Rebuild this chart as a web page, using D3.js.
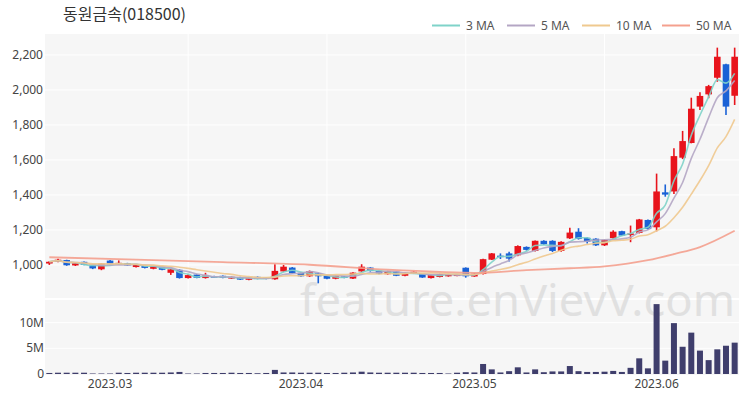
<!DOCTYPE html>
<html>
<head>
<meta charset="utf-8">
<script src="https://cdn.jsdelivr.net/npm/d3@7"></script>
<style>
  body { margin: 0; background: #fff; }
  text { font-family: "Noto Sans", "DejaVu Sans", sans-serif; }
  .title { font-family: "Noto Sans CJK KR", "Noto Sans", sans-serif; }
</style>
</head>
<body>
<div id="chart"></div>
<script>
// daily OHLC, 2023-02-20 .. 2023-06-15
var opens = [1008,1018,1028,997,1018,1002,975,1025,1003,1010,
  988,998,978,990,955,972,925,945,925,935,
  938,922,930,915,932,928,918,963,985,955,
  935,952,938,921,935,922,963,985,966,947,
  962,938,950,948,925,931,935,938,984,934,
  948,1030,1053,1066,1055,1103,1080,1138,1138,1080,
  1152,1190,1155,1150,1112,1153,1193,1172,1183,1257,
  1215,1415,1420,1613,1697,1905,1975,2070,2147,1967];
var highs = [1022,1035,1030,1012,1020,1004,1010,1028,1026,1012,
  1003,1000,996,992,977,975,947,947,955,938,
  940,934,932,930,934,930,1004,1000,988,957,
  968,955,940,940,937,958,1004,987,968,966,
  964,957,963,950,944,950,949,947,986,952,
  1036,1068,1066,1075,1112,1106,1140,1141,1141,1135,
  1212,1210,1158,1153,1145,1198,1196,1225,1263,1260,
  1522,1460,1667,1766,1956,1987,2029,2242,2150,2242];
var lows = [1000,1015,995,994,998,976,970,1000,1000,995,
  985,980,975,970,943,922,922,924,922,926,
  924,920,914,912,918,918,915,960,950,932,
  932,895,918,918,924,920,960,962,947,945,
  936,936,948,926,922,929,933,936,927,932,
  945,1028,1034,1020,1050,1082,1077,1115,1074,1076,
  1148,1145,1122,1108,1108,1150,1165,1130,1180,1202,
  1192,1390,1405,1605,1695,1886,1953,2047,1857,1914];
var closes = [1018,1030,998,1010,1000,980,1008,1003,1012,997,
  1000,983,994,972,975,925,942,926,940,929,
  926,932,916,928,920,921,966,990,953,935,
  965,935,921,938,926,956,990,965,950,964,
  938,955,961,928,942,948,947,945,935,950,
  1033,1066,1045,1036,1108,1086,1138,1118,1080,1132,
  1185,1148,1133,1112,1142,1190,1168,1180,1260,1205,
  1420,1402,1622,1708,1893,1966,2022,2190,1905,2190];
// volume in millions of shares
var volumes = [0.2,0.25,0.25,0.25,0.25,0.1,0.1,0.1,0.25,0.2,
  0.25,0.25,0.25,0.25,0.3,0.4,0.1,0.1,0.2,0.2,
  0.2,0.25,0.2,0.2,0.15,0.2,0.8,0.3,0.3,0.25,
  0.25,0.25,0.2,0.2,0.25,0.3,0.45,0.3,0.25,0.25,
  0.25,0.25,0.25,0.2,0.2,0.2,0.1,0.25,0.35,0.3,
  1.95,0.9,0.3,0.55,1.3,0.3,0.9,0.35,0.5,0.5,
  1.55,0.55,0.4,0.4,0.45,0.6,0.4,1.2,3.05,1.1,
  13.6,2.6,9.9,5.3,8.05,4.55,2.7,4.8,5.5,6.1];
// 50-day average (index, value)
var ma50Idx = [0,10,20,30,39,45,49,55,60,64,69,72,75,79];
var ma50Val = [1044,1030,1016,1001,973,960,955,970,981,992,1027,1062,1102,1195];

var priceTicks = [1000,1200,1400,1600,1800,2000,2200];
var volTicks = [0,5,10];
var volTickLabels = ["0","5M","10M"];
var monthIdx = [7,29,49,70];
var monthLabels = ["2023.03","2023.04","2023.05","2023.06"];
var gridIdx = [16,32,48,64];

var maNames = ["3 MA","5 MA","10 MA","50 MA"];
var maColors = ["#7fd3c9","#b4a6c4","#efc98f","#f4a08e"];

var W = 750, H = 400;
var left = 45, right = 739;
var pTop = 34, pBot = 298, vTop = 300, vBot = 375;

var svg = d3.select("#chart").append("svg").attr("width", W).attr("height", H);

var x = d3.scaleBand().domain(d3.range(closes.length)).range([left, right]);
var bw = x.bandwidth();
var cx = function(i) { return x(i) + bw / 2; };
var y = d3.scaleLinear().domain([811, 2320]).range([pBot, pTop]);
var yv = d3.scaleLinear().domain([0, 14.4]).range([374, vTop]);

// panels
svg.append("rect").attr("x", left).attr("y", pTop).attr("width", right - left).attr("height", pBot - pTop).attr("fill", "#f6f6f6");
svg.append("rect").attr("x", left).attr("y", vTop).attr("width", right - left).attr("height", vBot - vTop).attr("fill", "#f6f6f6");

// grid
svg.selectAll(".hg").data(priceTicks).enter().append("line")
  .attr("x1", left).attr("x2", right).attr("y1", d => y(d)).attr("y2", d => y(d))
  .attr("stroke", "#fff").attr("stroke-width", 1);
svg.selectAll(".vg").data(gridIdx).enter().append("line")
  .attr("x1", d => cx(d)).attr("x2", d => cx(d)).attr("y1", pTop).attr("y2", pBot)
  .attr("stroke", "#fff").attr("stroke-width", 1);
svg.selectAll(".vgv").data(volTicks.slice(1)).enter().append("line")
  .attr("x1", left).attr("x2", right).attr("y1", d => yv(d)).attr("y2", d => yv(d))
  .attr("stroke", "#fff").attr("stroke-width", 1);

// watermark
svg.append("text").attr("x", 300).attr("y", 316)
  .attr("textLength", 435).attr("lengthAdjust", "spacingAndGlyphs")
  .style("font-size", "44px").attr("fill", "#cfcfcf").attr("opacity", 0.55)
  .text("feature.enVievV.com");

// axis labels
svg.selectAll(".py").data(priceTicks).enter().append("text")
  .attr("x", 43).attr("y", d => y(d) + 4).attr("text-anchor", "end")
  .style("font-size", "12px").attr("fill", "#444").text(d => d3.format(",")(d));
svg.selectAll(".vy").data(volTicks).enter().append("text")
  .attr("x", 44).attr("y", d => yv(d) + 4).attr("text-anchor", "end")
  .style("font-size", "12px").attr("fill", "#444").text((d, i) => volTickLabels[i]);
svg.selectAll(".mx").data(monthIdx).enter().append("text")
  .attr("x", d => cx(d)).attr("y", 388).attr("text-anchor", "middle")
  .style("font-size", "12px").attr("fill", "#444").text((d, i) => monthLabels[i]);

// volume bars
svg.selectAll(".vol").data(volumes).enter().append("rect")
  .attr("x", (d, i) => cx(i) - 3).attr("width", 6)
  .attr("y", d => yv(d)).attr("height", d => yv(0) - yv(d))
  .attr("fill", "#3f3e6c");

// candles
var up = "#e8141c", down = "#1a62d6";
var idx = d3.range(closes.length);
svg.selectAll(".wick").data(idx).enter().append("line")
  .attr("x1", i => cx(i)).attr("x2", i => cx(i))
  .attr("y1", i => y(highs[i])).attr("y2", i => y(lows[i]))
  .attr("stroke", i => closes[i] >= opens[i] ? up : down).attr("stroke-width", 1.6);
svg.selectAll(".body").data(idx).enter().append("rect")
  .attr("x", i => cx(i) - 3.3).attr("width", 6.6)
  .attr("y", i => y(Math.max(opens[i], closes[i])))
  .attr("height", i => Math.max(1.5, Math.abs(y(opens[i]) - y(closes[i]))))
  .attr("fill", i => closes[i] >= opens[i] ? up : down);

// moving averages
function movingAvg(n) {
  return closes.map((c, i) => d3.mean(closes.slice(Math.max(0, i - n + 1), i + 1)));
}
var line = d3.line().x((d, i) => cx(i)).y(d => y(d)).curve(d3.curveMonotoneX);
[3, 5, 10].forEach(function(n, k) {
  svg.append("path").attr("d", line(movingAvg(n)))
    .attr("fill", "none").attr("stroke", maColors[k]).attr("stroke-width", 1.6).attr("opacity", 0.9);
});
var line50 = d3.line().x(d => cx(d[0])).y(d => y(d[1])).curve(d3.curveMonotoneX);
svg.append("path").attr("d", line50(ma50Idx.map((d, i) => [d, ma50Val[i]])))
  .attr("fill", "none").attr("stroke", maColors[3]).attr("stroke-width", 1.8).attr("opacity", 0.9);

// title
svg.append("text").attr("class", "title").attr("x", 63).attr("y", 20)
  .style("font-size", "16px").attr("fill", "#333").text("동원금속(018500)");

// legend
var legX = [432, 507, 582, 662];
maNames.forEach(function(name, k) {
  svg.append("line").attr("x1", legX[k]).attr("x2", legX[k] + 28).attr("y1", 25.5).attr("y2", 25.5)
    .attr("stroke", maColors[k]).attr("stroke-width", 2);
  svg.append("text").attr("x", legX[k] + 34).attr("y", 30)
    .style("font-size", "12px").attr("fill", "#555").text(name);
});
</script>
</body>
</html>
